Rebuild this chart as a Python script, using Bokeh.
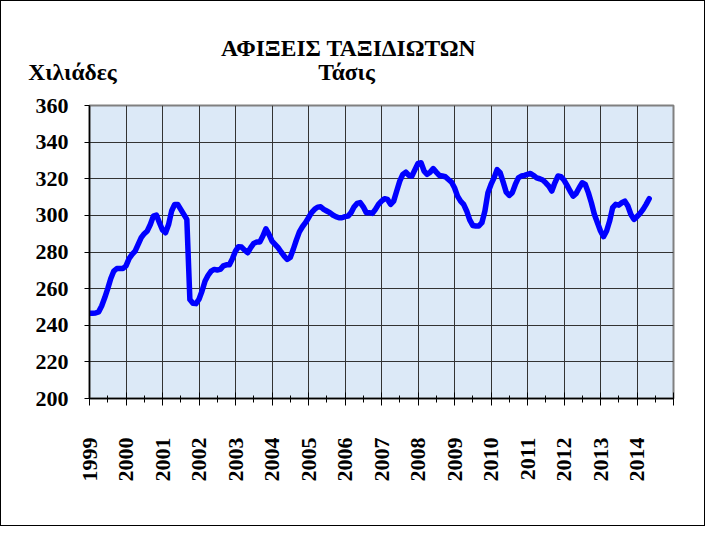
from bokeh.plotting import figure
from bokeh.models import Range1d, FixedTicker
from bokeh.layouts import column
from bokeh.core.properties import value
from bokeh.embed import file_html
from bokeh.resources import INLINE
from math import pi

title_main = "ΑΦΙΞΕΙΣ ΤΑΞΙΔΙΩΤΩΝ"
title_sub = "Τάσις"
unit_label = "Χιλιάδες"

start_year = 1999
end_year = 2015
year_labels = [str(y) for y in range(1999, 2015)]
y_ticks = [200, 220, 240, 260, 280, 300, 320, 340, 360]

# monthly trend values (thousands), Jan 1999 - May 2014
values = [
    246.5, 246.5, 246.7, 247.3, 250.5, 255.0, 260.0, 265.5, 269.6, 271.0, 271.0, 271.0,
    272.4, 276.4, 278.7, 280.5, 284.2, 287.8, 290.0, 291.5, 295.0, 299.6, 300.2, 296.0,
    292.0, 290.5, 295.0, 302.4, 306.0, 306.0, 303.3, 300.5, 297.8, 254.0, 252.0, 251.8,
    254.2, 258.7, 264.2, 267.3, 269.6, 270.5, 270.2, 270.5, 272.4, 273.0, 273.0, 276.4,
    280.5, 282.9, 282.7, 281.0, 279.6, 282.4, 284.7, 285.5, 285.5, 288.7, 292.7, 289.6,
    286.0, 284.2, 282.4, 280.0, 277.8, 276.0, 277.0, 281.5, 286.5, 291.0, 293.8, 296.0,
    298.7, 301.5, 303.3, 304.5, 304.7, 303.3, 302.4, 301.5, 300.2, 299.3, 298.7, 298.7,
    299.3, 299.6, 301.5, 304.7, 306.5, 307.0, 304.7, 301.5, 301.5, 301.1, 303.3, 306.0,
    307.8, 309.1, 308.7, 306.0, 307.8, 313.3, 318.7, 322.4, 323.6, 321.8, 321.5, 325.0,
    328.4, 328.7, 324.2, 322.4, 323.6, 325.5, 323.6, 321.8, 321.5, 321.1, 319.6, 318.2,
    315.1, 310.5, 307.8, 306.0, 302.4, 297.5, 294.5, 294.2, 294.2, 296.0, 302.4, 312.4,
    316.9, 320.5, 325.0, 323.3, 318.2, 312.7, 310.9, 312.4, 316.9, 320.5, 321.5, 321.8,
    322.4, 322.9, 321.8, 320.5, 320.0, 319.3, 317.8, 316.0, 313.3, 317.8, 321.5, 321.1,
    319.3, 316.4, 313.3, 310.5, 312.0, 315.1, 317.8, 316.9, 312.4, 306.9, 300.5, 296.0,
    291.5, 288.4, 291.5, 296.9, 304.2, 306.0, 305.6, 306.9, 307.8, 305.1, 300.5, 297.8,
    299.3, 301.1, 303.3, 306.0, 309.1,
]

x = [start_year + i / 12 for i in range(len(values))]

FONT = "Liberation Serif"
W = 703
HEAD_H = 92

# ---- header strip with the titles (pixel-like coordinates, y downward) ----
head = figure(
    width=W, height=HEAD_H, output_backend="svg", toolbar_location=None,
    x_range=Range1d(0, W), y_range=Range1d(HEAD_H, 0),
    min_border=0, x_axis_type=None, y_axis_type=None,
    background_fill_color="white", border_fill_color="white",
)
head.frame_align = False
head.title.visible = False
head.outline_line_color = None
head.grid.visible = False
txt = dict(text_align="center", text_baseline="alphabetic", text_font=value(FONT),
           text_font_style="bold", text_font_size="23.5px", text_color="black")
head.text(x=[347], y=[46], text=[title_main], **txt)
head.text(x=[345], y=[70], text=[title_sub], **txt)
head.text(x=[71], y=[70], text=[unit_label], **txt)

# ---- main chart ----
p = figure(
    width=W, height=432,
    output_backend="svg", toolbar_location=None,
    x_range=Range1d(start_year, end_year), y_range=Range1d(y_ticks[0], y_ticks[-1]),
    min_border_left=88, min_border_right=31, min_border_top=12, min_border_bottom=127,
    background_fill_color="#dce9f7", border_fill_color="white",
)
p.frame_align = False
p.title.visible = False

p.line(x, values, line_color="#0000ff", line_width=5.5, line_join="round", line_cap="round")

xticks = list(range(start_year, end_year + 1))
p.xaxis.ticker = FixedTicker(ticks=xticks, minor_ticks=[y + 0.5 for y in range(start_year, end_year)])
overrides = {y: lab for y, lab in zip(range(1999, 2015), year_labels)}
overrides[end_year] = ""
p.xaxis.major_label_overrides = overrides
p.xaxis.major_label_orientation = pi / 2
p.xaxis.major_label_standoff = 32
p.xaxis.major_tick_in = 6
p.xaxis.major_tick_out = 7
p.xaxis.minor_tick_in = 3
p.xaxis.minor_tick_out = 4
p.xaxis.minor_tick_line_color = "black"

p.yaxis.ticker = FixedTicker(ticks=y_ticks)
p.yaxis.major_label_standoff = 16
p.yaxis.major_tick_in = 0
p.yaxis.major_tick_out = 5
p.yaxis.minor_tick_line_color = None

for ax in (p.xaxis, p.yaxis):
    ax.axis_line_color = "black"
    ax.axis_line_width = 1.5
    ax.major_tick_line_color = "black"
    ax.major_label_text_font = FONT
    ax.major_label_text_font_style = "bold"
    ax.major_label_text_font_size = "22px"
    ax.major_label_text_color = "black"

p.xgrid.ticker = FixedTicker(ticks=xticks)
p.ygrid.ticker = FixedTicker(ticks=y_ticks)
p.grid.grid_line_color = "#333333"
p.grid.grid_line_width = 1

p.outline_line_color = "#808080"
p.outline_line_width = 2

layout = column(head, p, spacing=0)
layout.styles = {"border": "1px solid #000000"}

open("out.html", "w").write(file_html(layout, INLINE))
